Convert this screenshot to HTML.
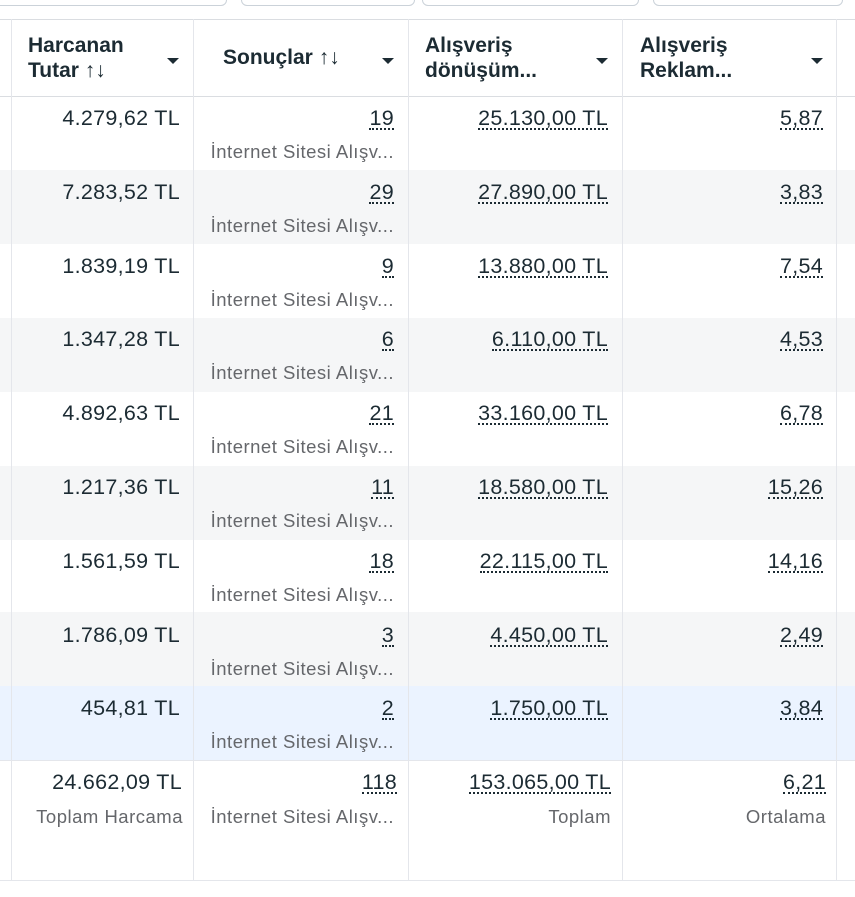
<!DOCTYPE html>
<html><head><meta charset="utf-8"><style>
*{margin:0;padding:0;box-sizing:border-box}
body{width:855px;height:897px;background:#fff;font-family:"Liberation Sans","DejaVu Sans",sans-serif;color:#1c2b33;position:relative;overflow:hidden}
.a{position:absolute}
.btn{position:absolute;top:-10px;height:16px;border:1px solid #cbd2d9;border-radius:6px;background:#fff}
.row{position:absolute;left:0;width:855px;height:74px}
.vl{position:absolute;top:19px;width:1px;height:861px;background:#e4e6eb}
.v{position:absolute;font-size:21.5px;text-align:right;white-space:nowrap;line-height:24px;letter-spacing:0.3px}
.u{border-bottom:2px dotted #1c2b33;line-height:20px;display:inline-block}
.s{position:absolute;font-size:18.5px;color:#65676b;white-space:nowrap;text-align:right;letter-spacing:0.5px}
.h{position:absolute;font-weight:bold;font-size:21px;line-height:25px}
.tri{position:absolute;width:0;height:0;border-left:6px solid transparent;border-right:6px solid transparent;border-top:6px solid #1c2b33}
</style></head><body>
<div class="btn" style="left:-10px;width:237px"></div>
<div class="btn" style="left:241px;width:174px"></div>
<div class="btn" style="left:422px;width:217px"></div>
<div class="btn" style="left:653px;width:190px"></div>
<div class="a" style="left:0;top:19px;width:855px;height:1px;background:#dadde1"></div>
<div class="a" style="left:0;top:96px;width:855px;height:1px;background:#dadde1"></div>
<div class="row" style="top:170px;background:#f5f6f7"></div>
<div class="row" style="top:318px;background:#f5f6f7"></div>
<div class="row" style="top:466px;background:#f5f6f7"></div>
<div class="row" style="top:612px;background:#f5f6f7"></div>
<div class="row" style="top:686px;background:#ebf3ff"></div>
<div class="a" style="left:0;top:760px;width:855px;height:1px;background:#e4e6eb"></div>
<div class="a" style="left:0;top:880px;width:855px;height:1px;background:#e4e6eb"></div>
<div class="vl" style="left:11px"></div><div class="vl" style="left:193px"></div><div class="vl" style="left:408px"></div><div class="vl" style="left:622px"></div><div class="vl" style="left:836px"></div>
<div class="h" style="left:28px;top:33px">Harcanan<br>Tutar ↑↓</div>
<div class="h" style="left:223px;top:45px">Sonuçlar ↑↓</div>
<div class="h" style="left:425px;top:33px">Alışveriş<br>dönüşüm...</div>
<div class="h" style="left:640px;top:33px">Alışveriş<br>Reklam...</div>
<div class="tri" style="left:167px;top:58px"></div><div class="tri" style="left:382px;top:58px"></div><div class="tri" style="left:596px;top:58px"></div><div class="tri" style="left:811px;top:58px"></div>
<div id="rows"></div>
<script>
var d=[["4.279,62 TL","19","25.130,00 TL","5,87"],["7.283,52 TL","29","27.890,00 TL","3,83"],["1.839,19 TL","9","13.880,00 TL","7,54"],["1.347,28 TL","6","6.110,00 TL","4,53"],["4.892,63 TL","21","33.160,00 TL","6,78"],["1.217,36 TL","11","18.580,00 TL","15,26"],["1.561,59 TL","18","22.115,00 TL","14,16"],["1.786,09 TL","3","4.450,00 TL","2,49"],["454,81 TL","2","1.750,00 TL","3,84"]];
var h="",rt=[675,461,247,32];
d.forEach(function(r,i){var t=96+i*73.8+10;
h+='<div class="v" style="right:'+rt[0]+'px;top:'+t+'px">'+r[0]+'</div>';
h+='<div class="v" style="right:'+rt[1]+'px;top:'+t+'px"><span class="u">'+r[1]+'</span></div>';
h+='<div class="s" style="right:'+rt[1]+'px;top:'+(t+35)+'px">İnternet Sitesi Alışv...</div>';
h+='<div class="v" style="right:'+rt[2]+'px;top:'+t+'px"><span class="u">'+r[2]+'</span></div>';
h+='<div class="v" style="right:'+rt[3]+'px;top:'+t+'px"><span class="u">'+r[3]+'</span></div>';});
var t=770;
h+='<div class="v" style="right:673px;top:'+t+'px">24.662,09 TL</div><div class="s" style="right:672px;top:'+(t+36)+'px">Toplam Harcama</div>';
h+='<div class="v" style="right:458px;top:'+t+'px"><span class="u">118</span></div><div class="s" style="right:461px;top:'+(t+36)+'px">İnternet Sitesi Alışv...</div>';
h+='<div class="v" style="right:244px;top:'+t+'px"><span class="u">153.065,00 TL</span></div><div class="s" style="right:244px;top:'+(t+36)+'px">Toplam</div>';
h+='<div class="v" style="right:29px;top:'+t+'px"><span class="u">6,21</span></div><div class="s" style="right:29px;top:'+(t+36)+'px">Ortalama</div>';
document.getElementById('rows').innerHTML=h;
</script>
</body></html>
